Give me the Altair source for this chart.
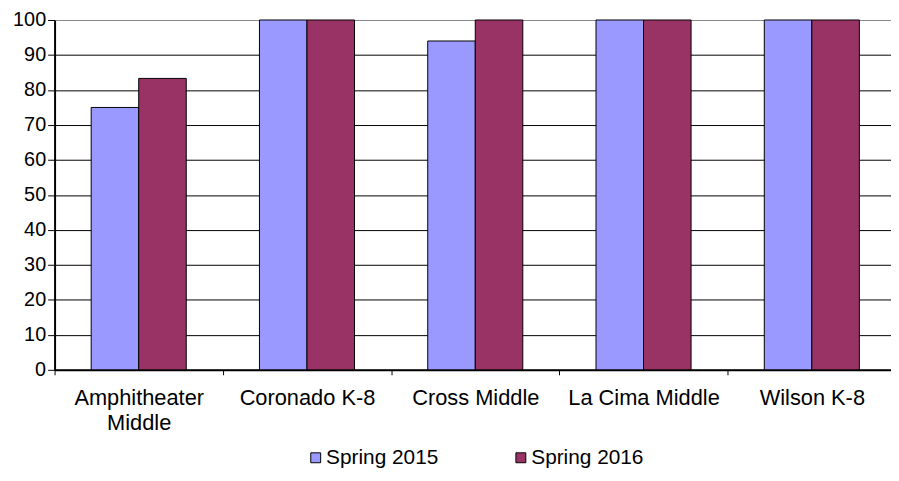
import altair as alt
import pandas as pd

schools = ["Amphitheater Middle", "Coronado K-8", "Cross Middle", "La Cima Middle", "Wilson K-8"]
spring_2015 = [75, 100, 94, 100, 100]
spring_2016 = [83.3, 100, 100, 100, 100]
series = ["Spring 2015", "Spring 2016"]
colors = ["#9999FF", "#993366"]
y_ticks = [0, 10, 20, 30, 40, 50, 60, 70, 80, 90, 100]

rows = []
for i, s in enumerate(schools):
    rows.append({"school": s, "series": series[0], "value": spring_2015[i]})
    rows.append({"school": s, "series": series[1], "value": spring_2016[i]})
df = pd.DataFrame(rows)

FONT = "Liberation Sans"

chart = alt.Chart(df).mark_bar(stroke="black", strokeWidth=1).encode(
    x=alt.X(
        "school:N", sort=schools, title=None,
        scale=alt.Scale(paddingInner=0, paddingOuter=0),
        axis=alt.Axis(
            labelAngle=0, tickBand="extent", ticks=True, tickSize=5, tickColor="black", tickWidth=1,
            domainColor="black", domainWidth=2, labelFont=FONT, labelFontSize=22,
            labelColor="black", labelPadding=13, labelLineHeight=25, labelBaseline="top",
            labelExpr="datum.label == 'Amphitheater Middle' ? ['Amphitheater', 'Middle'] : datum.label",
            grid=False,
        ),
    ),
    xOffset=alt.XOffset("series:N", sort=series, scale=alt.Scale(paddingInner=0, paddingOuter=0.77)),
    y=alt.Y(
        "value:Q", title=None,
        scale=alt.Scale(domain=[0, 100], nice=False),
        axis=alt.Axis(
            values=y_ticks, tickSize=7, tickColor="black", tickWidth=1,
            domainColor="black", domainWidth=2, labelFont=FONT, labelFontSize=20,
            labelColor="black", labelPadding=2,
            grid=True, gridWidth=1,
            gridColor={"condition": {"test": "datum.value == 100", "value": "#888888"}, "value": "black"},
        ),
    ),
    color=alt.Color(
        "series:N", sort=series,
        scale=alt.Scale(domain=series, range=colors),
        legend=alt.Legend(
            title=None, orient="none", direction="horizontal", legendX=253, legendY=431,
            symbolType="square", symbolSize=100, symbolStrokeColor="black", symbolStrokeWidth=1,
            labelFont=FONT, labelFontSize=21, labelColor="black", columnPadding=72, labelOffset=0,
        ),
    ),
).properties(
    width=849, height=353,
    autosize=alt.AutoSizeParams(type="none"),
    padding={"left": 47, "top": 10, "right": -5, "bottom": 102},
).configure_view(stroke=None)

chart.save("out.html", embed_options={"renderer": "svg", "actions": False})
